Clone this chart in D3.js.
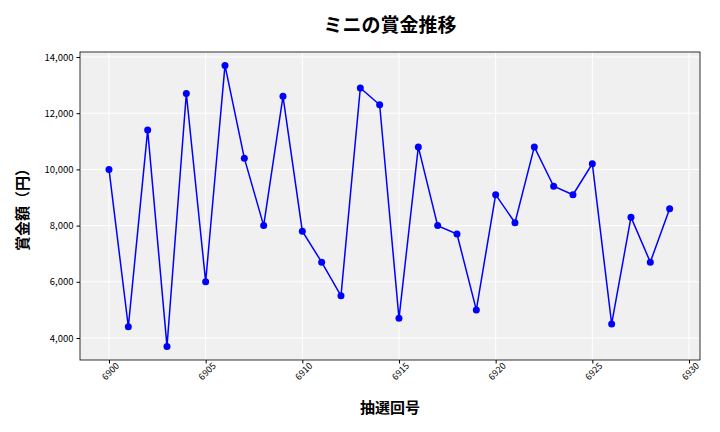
<!DOCTYPE html>
<html><head><meta charset="utf-8">
<script src="https://cdn.jsdelivr.net/npm/d3@7"></script>
<style>body{margin:0;background:#fff}</style></head>
<body><svg id="c" width="720" height="432"></svg>
<script>
const draws = [6900,6901,6902,6903,6904,6905,6906,6907,6908,6909,6910,6911,6912,6913,6914,6915,6916,6917,6918,6919,6920,6921,6922,6923,6924,6925,6926,6927,6928,6929];
const prizes = [10000,4400,11400,3700,12700,6000,13700,10400,8000,12600,7800,6700,5500,12900,12300,4700,10800,8000,7700,5000,9100,8100,10800,9400,9100,10200,4500,8300,6700,8600];
const xTicks = [6900,6905,6910,6915,6920,6925,6930];
const yTicks = [4000,6000,8000,10000,12000,14000];

const svg = d3.select("#c");
const L=80,R=700,T=52,B=360;
const x = d3.scaleLinear().domain([6898.5,6930.57]).range([L,R]);
const y = d3.scaleLinear().domain([3217,14178]).range([B,T]);
const font = "'Noto Sans CJK JP','Noto Sans',sans-serif";
svg.append("rect").attr("x",L).attr("y",T).attr("width",R-L).attr("height",B-T).attr("fill","#f0f0f0");
const g = svg.append("g");
xTicks.forEach(t=>g.append("line").attr("x1",x(t)).attr("x2",x(t)).attr("y1",T).attr("y2",B).attr("stroke","#fff").attr("stroke-width",1));
yTicks.forEach(t=>g.append("line").attr("x1",L).attr("x2",R).attr("y1",y(t)).attr("y2",y(t)).attr("stroke","#fff").attr("stroke-width",1));
svg.append("rect").attr("x",L).attr("y",T).attr("width",R-L).attr("height",B-T).attr("fill","none").attr("stroke","#000").attr("stroke-width",0.8);

const xa = svg.append("g").attr("transform",`translate(0,${B})`).call(d3.axisBottom(x).tickValues(xTicks).tickFormat(d3.format("d")).tickSizeOuter(0).tickSize(3.5));
xa.select(".domain").remove();
xa.selectAll("text").attr("font-family",font).attr("font-size",9).attr("text-anchor","end").attr("dx","0.3em").attr("dy","0.6em").attr("transform","rotate(-45)");
const ya = svg.append("g").attr("transform",`translate(${L},0)`).call(d3.axisLeft(y).tickValues(yTicks).tickFormat(d3.format(",")).tickSizeOuter(0).tickSize(3.5));
ya.select(".domain").remove();
ya.selectAll("text").attr("font-family",font).attr("font-size",9.5);

const line = d3.line().x((d,i)=>x(draws[i])).y(d=>y(d));
svg.append("path").datum(prizes).attr("d",line).attr("fill","none").attr("stroke","#0000ff").attr("stroke-width",1.5);
svg.selectAll("circle.p").data(prizes).enter().append("circle").attr("cx",(d,i)=>x(draws[i])).attr("cy",d=>y(d)).attr("r",3.5).attr("fill","#0000ff");

svg.append("text").attr("x",390).attr("y",32).attr("text-anchor","middle").attr("font-family",font).attr("font-size",19).attr("font-weight","bold").text("ミニの賞金推移");
svg.append("text").attr("x",390).attr("y",413).attr("text-anchor","middle").attr("font-family",font).attr("font-size",15).attr("font-weight","bold").text("抽選回号");
svg.append("text").attr("transform",`translate(28,${(T+B)/2}) rotate(-90)`).attr("text-anchor","middle").attr("font-family",font).attr("font-size",15).attr("font-weight","bold").text("賞金額（円）");
</script></body></html>
